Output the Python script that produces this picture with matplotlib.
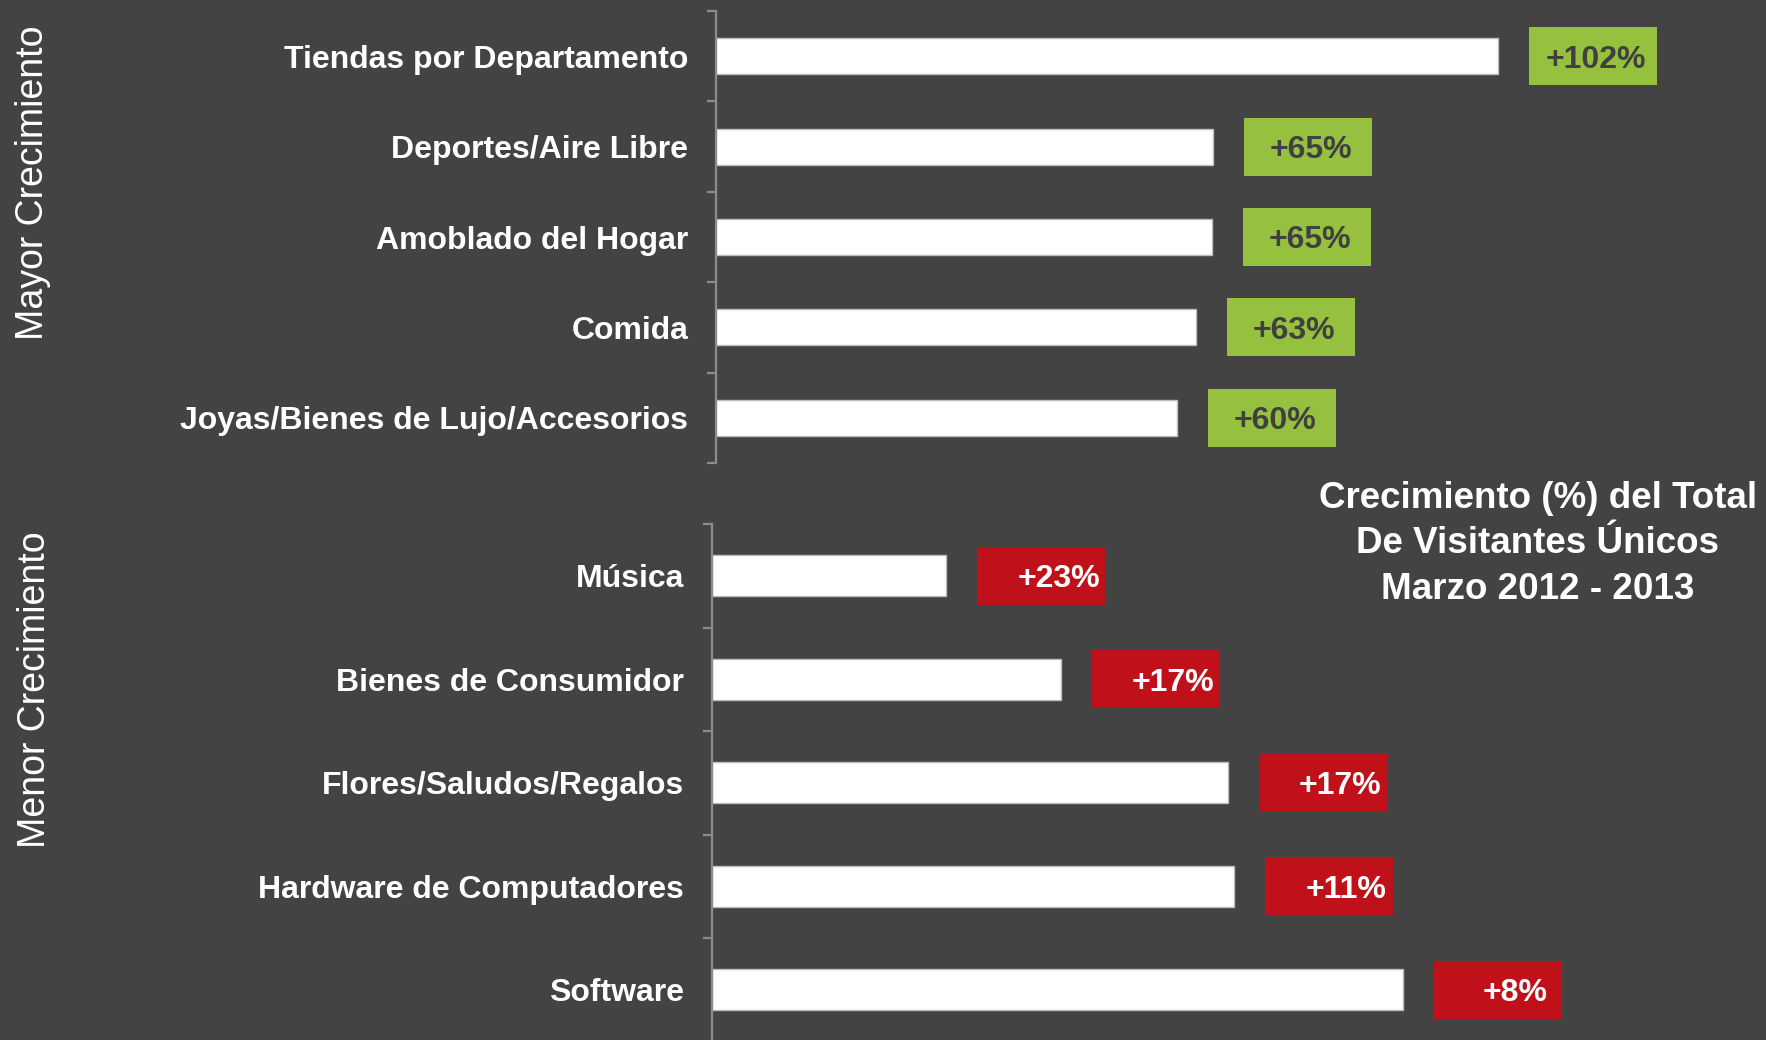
import matplotlib.pyplot as plt
from matplotlib.patches import Rectangle

plt.rcParams['font.family'] = ['Liberation Sans', 'DejaVu Sans']

# upper group: highest growth
top_cats = ["Tiendas por Departamento", "Deportes/Aire Libre", "Amoblado del Hogar",
            "Comida", "Joyas/Bienes de Lujo/Accesorios"]
top_bars = [100.0, 63.6, 63.5, 61.4, 59.0]
top_labels = ["+102%", "+65%", "+65%", "+63%", "+60%"]

# lower group: lowest growth
bot_cats = ["Música", "Bienes de Consumidor", "Flores/Saludos/Regalos",
            "Hardware de Computadores", "Software"]
bot_bars = [30.0, 44.6, 66.0, 66.8, 88.4]
bot_labels = ["+23%", "+17%", "+17%", "+11%", "+8%"]

bg = '#434343'
green = '#95c13e'
red = '#c0111a'
W, H = 1766, 1040
px_per_unit = 7.816

fig = plt.figure(figsize=(W / 100, H / 100), dpi=100, facecolor=bg)


def draw_group(ax, cats, vals, labels, box_color, text_color, text_dx):
    n = len(cats)
    ax.set_facecolor(bg)
    y = list(range(n))
    ax.barh(y, vals, height=0.4, color='white', edgecolor='#bdbdbd', linewidth=1)
    ax.set_ylim(n - 0.5, -0.5)
    ax.set_xlim(0, ax.bbox.width / px_per_unit)

    # pixel -> data helpers
    unit_y = ax.bbox.height / n
    box_w = 128 / px_per_unit
    box_h = 58 / unit_y
    gap = 31 / px_per_unit
    for yi, v, lab in zip(y, vals, labels):
        x0 = v + gap
        ax.add_patch(Rectangle((x0, yi - box_h / 2), box_w, box_h,
                               facecolor=box_color, edgecolor='none', clip_on=False))
        ax.text(x0 + box_w / 2 + text_dx / px_per_unit, yi, lab, ha='center',
                va='center_baseline', color=text_color, fontsize=23, fontweight='bold')

    for s in ['top', 'right', 'bottom']:
        ax.spines[s].set_visible(False)
    ax.spines['left'].set_color('#8c8c8c')
    ax.spines['left'].set_linewidth(1.6)
    ax.set_xticks([])
    ax.set_yticks(y)
    ax.set_yticklabels(cats, fontsize=23, fontweight='bold', color='white')
    ax.tick_params(axis='y', which='major', length=0, pad=20)
    ax.set_yticks([i - 0.5 for i in range(n + 1)], minor=True)
    ax.tick_params(axis='y', which='minor', length=6.5, width=1.6, color='#8c8c8c')


ax1 = fig.add_axes([716 / W, (H - 463) / H, (W - 716) / W, 452 / H])
draw_group(ax1, top_cats, top_bars, top_labels, green, '#404040', 3)

ax2 = fig.add_axes([712 / W, -1.5 / H, (W - 712) / W, 517.5 / H])
draw_group(ax2, bot_cats, bot_bars, bot_labels, red, 'white', 17)

fig.text(33 / W, (H - 183) / H, "Mayor Crecimiento", rotation=90, ha='center', va='center',
         color='white', fontsize=27)
fig.text(35 / W, (H - 690) / H, "Menor Crecimiento", rotation=90, ha='center', va='center',
         color='white', fontsize=27)

fig.text(1538 / W, (H - 481) / H,
         "Crecimiento (%) del Total\nDe Visitantes Únicos\nMarzo 2012 - 2013",
         ha='center', va='top', color='white', fontsize=26.5, fontweight='bold', linespacing=1.38)

fig.savefig("out.png", dpi=100, facecolor=bg)
